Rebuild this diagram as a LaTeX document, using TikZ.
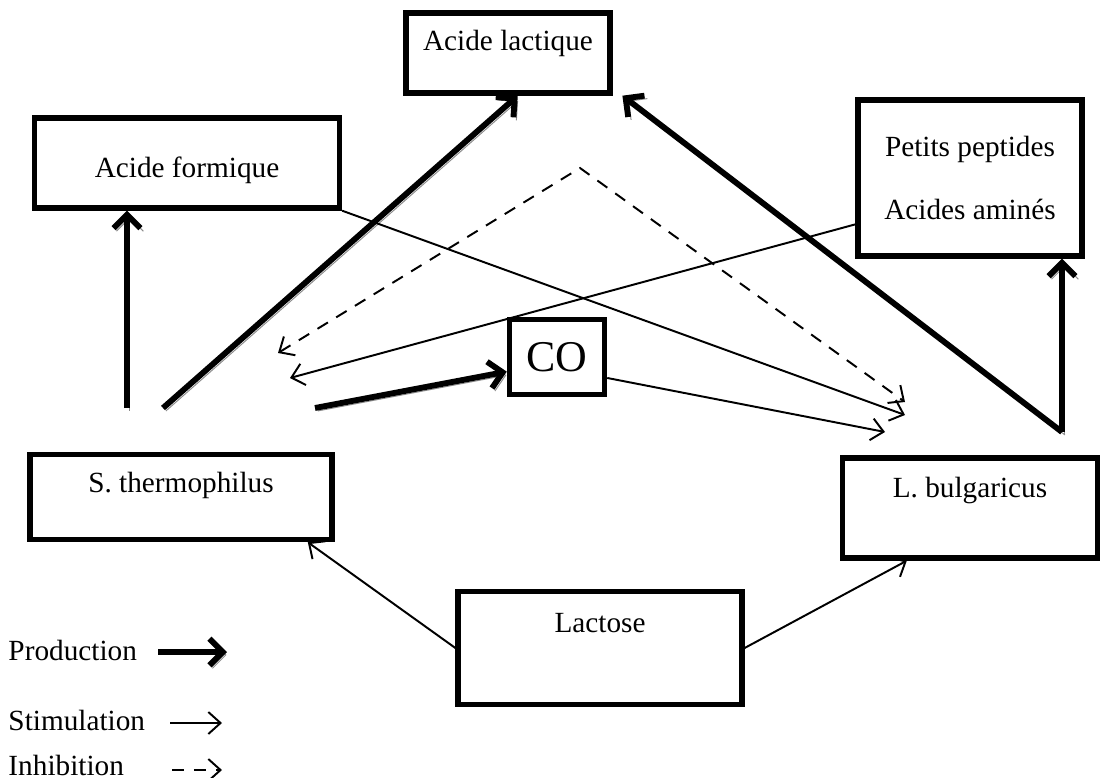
\documentclass[tikz,border=0pt]{standalone}
\usepackage{fontspec}
\setmainfont{Liberation Serif}
\usetikzlibrary{arrows.meta, positioning, shadows}

\begin{document}
\begin{tikzpicture}[
  x=0.41pt, y=-0.41pt,
  box/.style={draw, line width=2.2pt, fill=white, align=center, inner sep=0pt,
    font=\fontsize{12}{14}\selectfont,
    drop shadow={shadow xshift=1pt, shadow yshift=-1pt, fill=black!35}},
  lift/.style={text height=9pt, text depth=#1},
  lgd/.style={inner sep=0pt, anchor=west, font=\fontsize{12}{14}\selectfont},
  prod/.style={-{Straight Barb[length=5.5pt, width=11pt]}, line width=2.4pt,
    preaction={draw=black!45, transform canvas={shift={(1.2pt,-1.2pt)}}}},
  stim/.style={-{Straight Barb[length=5pt, width=9pt]}, line width=0.8pt},
  inhib/.style={stim, dash pattern=on 5pt off 4pt}
]
  \useasboundingbox (0,0) rectangle (1113,778);

  % boites
  \node[box, lift=11.2pt, minimum width=83.6pt, minimum height=32.8pt] (lac) at (508,53) {Acide lactique};
  \node[box, text height=14.8pt, text depth=3pt, minimum width=125pt, minimum height=36.9pt] (form) at (187,163) {Acide formique};
  \node[box, minimum width=91.8pt, minimum height=64pt] (pep) at (970,178) {Petits peptides\\[12pt]Acides aminés};
  \node[box, font=\fontsize{18}{20}\selectfont, minimum width=39pt, minimum height=30.8pt] (co) at (557,357) {CO};
  \node[box, lift=12.8pt, minimum width=123.8pt, minimum height=34.9pt] (sth) at (181,497) {S. thermophilus};
  \node[box, lift=17.8pt, minimum width=104.6pt, minimum height=41pt] (lbu) at (970,508) {L. bulgaricus};
  \node[box, lift=21.8pt, minimum width=116.4pt, minimum height=46.3pt] (lact) at (600,648) {Lactose};

  % points libres
  \coordinate (sA) at (127,408);
  \coordinate (sB) at (163,408);
  \coordinate (sC) at (315,408);
  \coordinate (bB) at (1062,432);
  \coordinate (t1) at (905,415);
  \coordinate (t2) at (290,378);
  \coordinate (t3) at (885,432);
  \coordinate (apex) at (580,168);
  \coordinate (i1) at (278,353);
  \coordinate (i2) at (905,402);

  % production
  \draw[prod] (sA) -- (sA |- form.south);
  \draw[prod] (sB) -- ([xshift=4pt]lac.south);
  \draw[prod] (sC) -- ([yshift=-6pt]co.west);
  \draw[prod] (bB) -- (bB |- pep.south);
  \draw[prod] (bB) -- ([xshift=4pt]lac.south east);

  % stimulation
  \draw[stim] (form.south east) -- (t1);
  \draw[stim] ([yshift=-19pt]pep.west) -- (t2);
  \draw[stim] ([yshift=-8.6pt]co.east) -- (t3);
  \draw[stim] (lact.west) -- ([xshift=-11pt]sth.south east);
  \draw[stim] (lact.east) -- ([xshift=27.5pt]lbu.south west);

  % inhibition
  \draw[inhib, {Straight Barb[length=5pt, width=9pt]}-{Straight Barb[length=5pt, width=9pt]}] (i1) -- (apex) -- (i2);

  % legende
  \node[lgd] (lgP) at (8,650) {Production};
  \node[lgd] (lgS) at (8,720) {Stimulation};
  \node[lgd] (lgI) at (8,765) {Inhibition};
  \coordinate (pA) at (158,652);
  \coordinate (pB) at (227,652);
  \coordinate (sa) at (170,723);
  \coordinate (sb) at (222,723);
  \coordinate (ia) at (172,770);
  \coordinate (ib) at (222,770);
  \draw[prod] (pA) -- (pB);
  \draw[stim] (sa) -- (sb);
  \draw[inhib] (ia) -- (ib);
\end{tikzpicture}
\end{document}
